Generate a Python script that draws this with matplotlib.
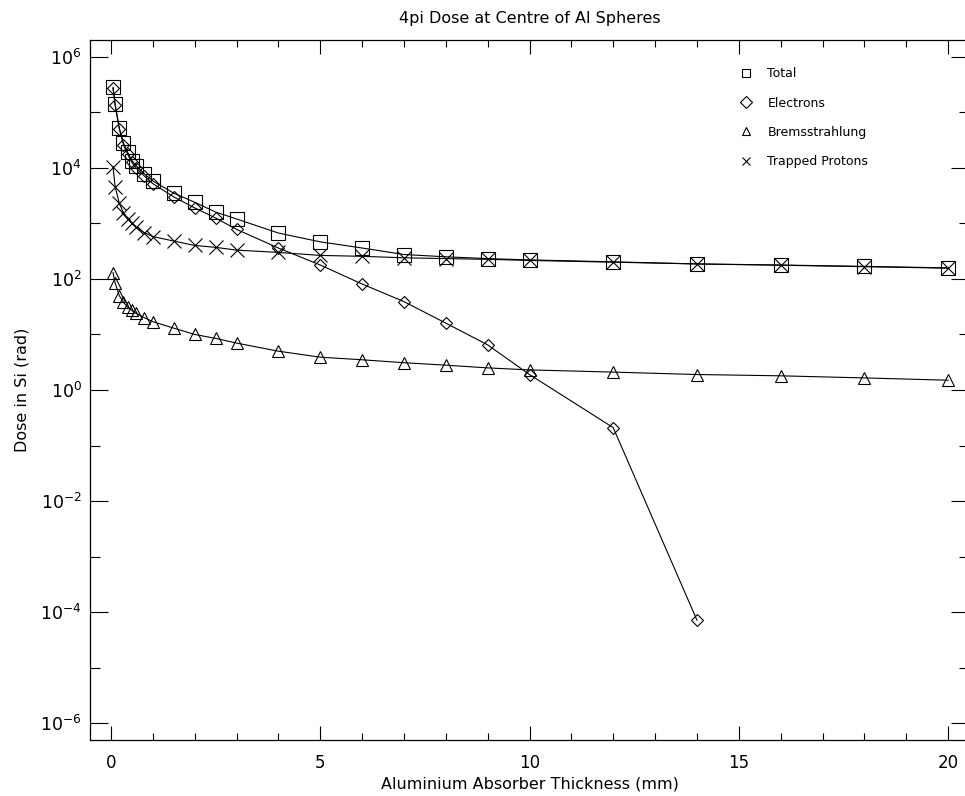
import matplotlib
matplotlib.use("Agg")
import matplotlib.pyplot as plt
from matplotlib.lines import Line2D
from matplotlib.ticker import FixedLocator, NullFormatter

# Shielding depths (mm)
thickness = [0.05, 0.1, 0.2, 0.3, 0.4, 0.5, 0.6, 0.8, 1.0, 1.5, 2.0, 2.5, 3.0,
             4.0, 5.0, 6.0, 7.0, 8.0, 9.0, 10.0, 12.0, 14.0, 16.0, 18.0, 20.0]

# Dose in Si (rad)
total = [2.8e5, 1.4e5, 5.2e4, 2.8e4, 1.9e4, 1.35e4, 1.1e4, 7.8e3, 5.8e3, 3.5e3,
         2.4e3, 1.6e3, 1.2e3, 670, 465, 360, 275, 250, 232, 220, 203, 186, 178, 168, 158]
electrons = [2.7e5, 1.35e5, 5.0e4, 2.6e4, 1.75e4, 1.25e4, 1.0e4, 7.1e3, 5.2e3, 3.0e3,
             1.9e3, 1.25e3, 780, 360, 178, 81, 39, 16, 6.5, 1.9, 0.21, 7.2e-5]
brems = [130, 85, 50, 38, 31, 27, 24, 20, 17, 13, 10, 8.5, 7.0,
         5.0, 3.9, 3.5, 3.1, 2.8, 2.5, 2.3, 2.1, 1.9, 1.8, 1.65, 1.5]
protons = [1.05e4, 4.6e3, 2.3e3, 1.55e3, 1.2e3, 1.0e3, 850, 680, 580, 480,
           400, 370, 330, 300, 265, 255, 240, 232, 225, 215, 200, 186, 176, 166, 156]

labels = ["Total", "Electrons", "Bremsstrahlung", "Trapped Protons"]
markers = ["s", "D", "^", "x"]

major_exp = [-6, -4, -2, 0, 2, 4, 6]
minor_exp = [-5, -3, -1, 1, 3, 5]

fig = plt.figure(figsize=(9.65, 7.96), dpi=100)
ax = fig.add_axes([90 / 965, 56 / 796, 879 / 965, 700 / 796])

series = [total, electrons, brems, protons]
sizes = [9.5, 6.2, 8.5, 9.5]
for vals, m, ms in zip(series, markers, sizes):
    ax.plot(thickness[:len(vals)], vals, color="black", lw=0.8,
            marker=m, ms=ms, mfc="none", mec="black", mew=0.8)

ax.set_yscale("log")
ax.set_xlim(-0.5, 20.5)
ax.set_ylim(5e-7, 2e6)

ax.set_xticks([0, 5, 10, 15, 20])
ax.xaxis.set_minor_locator(FixedLocator(range(0, 21)))
ax.set_yticks([10.0 ** e for e in major_exp])
ax.set_yticklabels([r"10$^{%d}$" % e for e in major_exp])
ax.yaxis.set_minor_locator(FixedLocator([10.0 ** e for e in minor_exp]))
ax.yaxis.set_minor_formatter(NullFormatter())

ax.tick_params(which="both", direction="in", top=True, right=True, width=0.8)
ax.tick_params(axis="x", which="major", length=10, pad=10, labelsize=12)
ax.tick_params(axis="x", which="minor", length=5)
ax.tick_params(axis="y", which="major", length=13, pad=6, labelsize=12.5)
ax.tick_params(axis="y", which="minor", length=7)
for s in ax.spines.values():
    s.set_linewidth(0.9)

ax.set_title("4pi Dose at Centre of Al Spheres", fontsize=11.5, pad=12)
ax.set_xlabel("Aluminium Absorber Thickness (mm)", fontsize=11.5, labelpad=3)
ax.set_ylabel("Dose in Si (rad)", fontsize=11.5, labelpad=8)

handles = [Line2D([], [], ls="None", marker=m, ms=6, mfc="none", mec="black", mew=0.8)
           for m in markers]
ax.legend(handles, labels, loc="upper left", bbox_to_anchor=(0.725, 0.977),
          frameon=False, fontsize=9, handlelength=1.2, handletextpad=1.1,
          labelspacing=1.3)

fig.savefig("out.png", dpi=100)
